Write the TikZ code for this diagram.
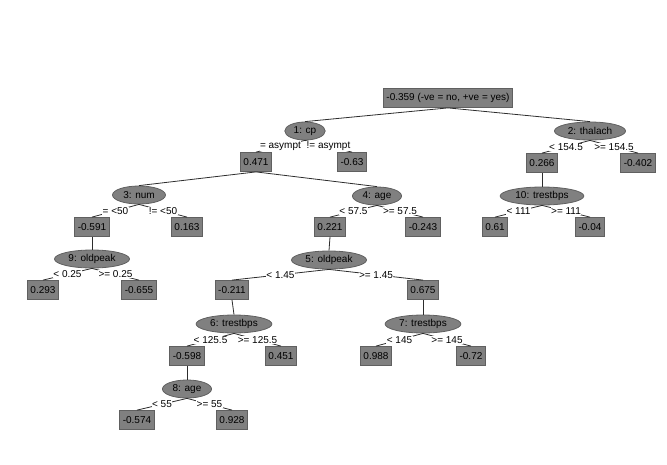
\documentclass[tikz,border=0pt]{standalone}
\usepackage{fontspec}
\setmainfont{Liberation Sans}
\usetikzlibrary{shapes.geometric}
\definecolor{nodegray}{RGB}{128,128,128}
\definecolor{bordergray}{RGB}{96,96,96}
\definecolor{edgegray}{RGB}{45,45,45}
\tikzset{
  predbox/.style={draw=bordergray, fill=nodegray, rectangle, line width=0.8pt,
    minimum height=19pt, inner xsep=3pt, inner ysep=2pt},
  splitter/.style={draw=bordergray, fill=nodegray, ellipse, line width=0.8pt,
    minimum height=18pt, inner xsep=3pt, inner ysep=0pt},
  branch/.style={draw=edgegray, line width=0.8pt},
  cond/.style={fill=white, inner sep=0.5pt, midway}
}
\begin{document}
\begin{tikzpicture}[x=1pt, y=-1pt]
            \useasboundingbox (0,0) rectangle (667,464);
            {\fontsize{10}{12}\selectfont

            % Drawing root prediction
            \node [predbox] (root) at (448,98) {-0.359 (-ve = no, +ve = yes)};%

            % Drawing splitter 1 and its predictions
            \node [splitter] (n1) at (305,131) {1: cp};%
            \node [predbox] (p1a) at (256,162) {0.471};%
            \node [predbox] (p1b) at (352,162) {-0.63};%

            % Drawing splitter 2 and its predictions
            \node [splitter] (n2) at (590,131) {2: thalach};%
            \node [predbox] (p2a) at (542,163) {0.266};%
            \node [predbox] (p2b) at (638,163) {-0.402};%

            % Drawing splitter 3 and its predictions
            \node [splitter] (n3) at (139,195) {3: num};%
            \node [predbox] (p3a) at (92,227) {-0.591};%
            \node [predbox] (p3b) at (187,227) {0.163};%

            % Drawing splitter 4 and its predictions
            \node [splitter] (n4) at (377,196) {4: age};%
            \node [predbox] (p4a) at (330,227) {0.221};%
            \node [predbox] (p4b) at (423,227) {-0.243};%

            % Drawing splitter 5 and its predictions
            \node [splitter] (n5) at (329,260) {5: oldpeak};%
            \node [predbox] (p5a) at (232,290) {-0.211};%
            \node [predbox] (p5b) at (423,290) {0.675};%

            % Drawing splitter 6 and its predictions
            \node [splitter] (n6) at (234,324) {6: trestbps};%
            \node [predbox] (p6a) at (187,356) {-0.598};%
            \node [predbox] (p6b) at (281,356) {0.451};%

            % Drawing splitter 7 and its predictions
            \node [splitter] (n7) at (423,324) {7: trestbps};%
            \node [predbox] (p7a) at (376,356) {0.988};%
            \node [predbox] (p7b) at (471,356) {-0.72};%

            % Drawing splitter 8 and its predictions
            \node [splitter] (n8) at (187,389) {8: age};%
            \node [predbox] (p8a) at (137,420) {-0.574};%
            \node [predbox] (p8b) at (232,420) {0.928};%

            % Drawing splitter 9 and its predictions
            \node [splitter] (n9) at (92,259) {9: oldpeak};%
            \node [predbox] (p9a) at (43,290) {0.293};%
            \node [predbox] (p9b) at (139,290) {-0.655};%

            % Drawing splitter 10 and its predictions
            \node [splitter] (n10) at (542,196) {10: trestbps};%
            \node [predbox] (p10a) at (495,227) {0.61};%
            \node [predbox] (p10b) at (590,227) {-0.04};%

            % Drawing edges from predictions to splitters
            \draw [branch] (root.south) -- (n1.north);%
            \draw [branch] (root.south) -- (n2.north);%
            \draw [branch] (p1a.south) -- (n3.north);%
            \draw [branch] (p1a.south) -- (n4.north);%
            \draw [branch] (p4a.south) -- (n5.north);%
            \draw [branch] (p5a.south) -- (n6.north);%
            \draw [branch] (p5b.south) -- (n7.north);%
            \draw [branch] (p6a.south) -- (n8.north);%
            \draw [branch] (p3a.south) -- (n9.north);%
            \draw [branch] (p2a.south) -- (n10.north);%

            % Drawing edges from splitters to predictions
            \draw [branch] (n1.south) -- node [cond] {= asympt} (p1a.north);%
            \draw [branch] (n1.south) -- node [cond] {!= asympt} (p1b.north);%
            \draw [branch] (n2.south) -- node [cond] {< 154.5} (p2a.north);%
            \draw [branch] (n2.south) -- node [cond] {>= 154.5} (p2b.north);%
            \draw [branch] (n3.south) -- node [cond] {= <50} (p3a.north);%
            \draw [branch] (n3.south) -- node [cond] {!= <50} (p3b.north);%
            \draw [branch] (n4.south) -- node [cond] {< 57.5} (p4a.north);%
            \draw [branch] (n4.south) -- node [cond] {>= 57.5} (p4b.north);%
            \draw [branch] (n5.south) -- node [cond] {< 1.45} (p5a.north);%
            \draw [branch] (n5.south) -- node [cond] {>= 1.45} (p5b.north);%
            \draw [branch] (n6.south) -- node [cond] {< 125.5} (p6a.north);%
            \draw [branch] (n6.south) -- node [cond] {>= 125.5} (p6b.north);%
            \draw [branch] (n7.south) -- node [cond] {< 145} (p7a.north);%
            \draw [branch] (n7.south) -- node [cond] {>= 145} (p7b.north);%
            \draw [branch] (n8.south) -- node [cond] {< 55} (p8a.north);%
            \draw [branch] (n8.south) -- node [cond] {>= 55} (p8b.north);%
            \draw [branch] (n9.south) -- node [cond] {< 0.25} (p9a.north);%
            \draw [branch] (n9.south) -- node [cond] {>= 0.25} (p9b.north);%
            \draw [branch] (n10.south) -- node [cond] {< 111} (p10a.north);%
            \draw [branch] (n10.south) -- node [cond] {>= 111} (p10b.north);%
            }
\end{tikzpicture}
\end{document}
